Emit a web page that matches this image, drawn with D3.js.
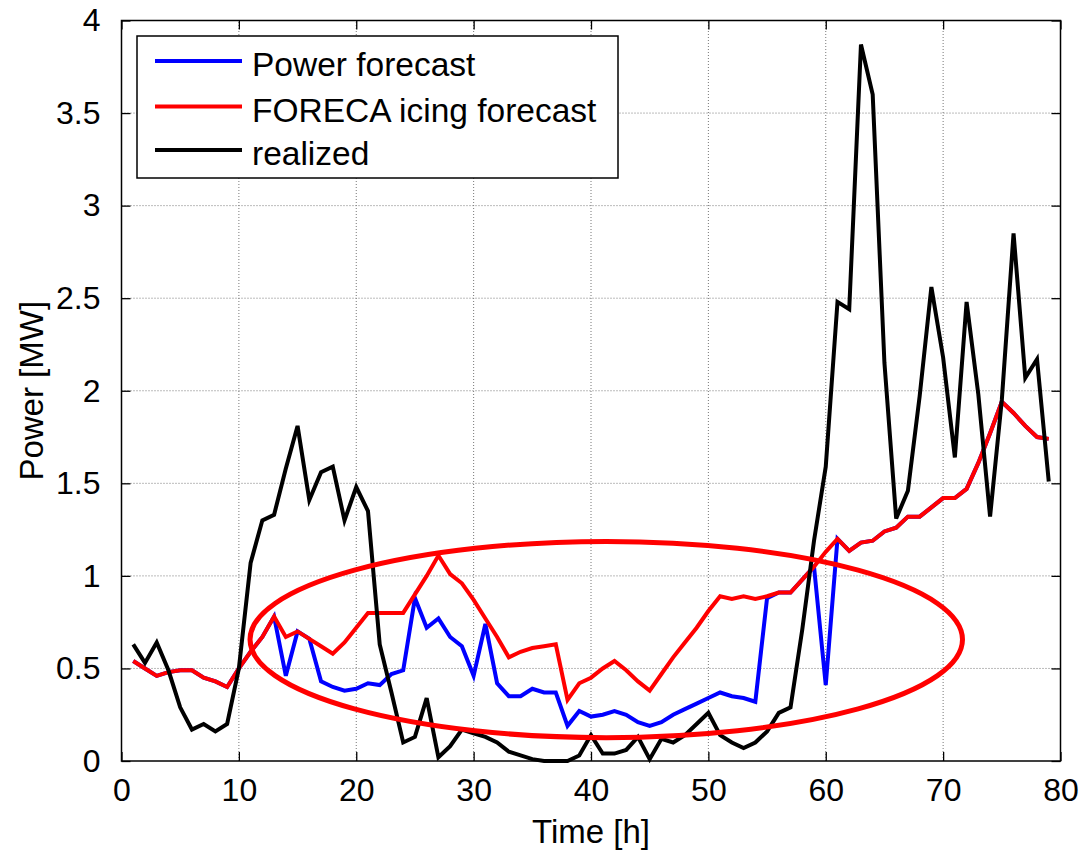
<!DOCTYPE html>
<html>
<head>
<meta charset="utf-8">
<script src="https://cdn.jsdelivr.net/npm/d3@7"></script>
<style>
  body { margin: 0; background: #fff; }
  text { font-family: "Liberation Sans", Arial, sans-serif; fill: #000; }
</style>
</head>
<body>
<div id="viz_container"></div>
<script>
// hours 1..79
const hours = d3.range(1, 80);

const powerForecast = [
  0.54, 0.50, 0.46, 0.48, 0.49, 0.49, 0.45, 0.43, 0.40, 0.50,
  0.59, 0.67, 0.78, 0.46, 0.70, 0.66, 0.43, 0.40, 0.38, 0.39,
  0.42, 0.41, 0.47, 0.49, 0.88, 0.72, 0.77, 0.67, 0.62, 0.46,
  0.74, 0.42, 0.35, 0.35, 0.39, 0.37, 0.37, 0.19, 0.27, 0.24,
  0.25, 0.27, 0.25, 0.21, 0.19, 0.21, 0.25, 0.28, 0.31, 0.34,
  0.37, 0.35, 0.34, 0.32, 0.88, 0.91, 0.91, 0.98, 1.05, 0.41,
  1.20, 1.135, 1.18, 1.19, 1.24, 1.26, 1.32, 1.32, 1.37, 1.42,
  1.42, 1.47, 1.61, 1.77, 1.94, 1.88, 1.81, 1.75, 1.74
];

const icingForecast = [
  0.54, 0.50, 0.46, 0.48, 0.49, 0.49, 0.45, 0.43, 0.40, 0.50,
  0.59, 0.67, 0.78, 0.67, 0.70, 0.66, 0.62, 0.58, 0.64, 0.72,
  0.80, 0.80, 0.80, 0.80, 0.90, 1.00, 1.11, 1.01, 0.96, 0.87,
  0.77, 0.67, 0.56, 0.59, 0.61, 0.62, 0.63, 0.33, 0.42, 0.45,
  0.50, 0.54, 0.49, 0.43, 0.38, 0.47, 0.56, 0.64, 0.72, 0.81,
  0.89, 0.875, 0.89, 0.875, 0.89, 0.91, 0.91, 0.98, 1.05, 1.13,
  1.20, 1.135, 1.18, 1.19, 1.24, 1.26, 1.32, 1.32, 1.37, 1.42,
  1.42, 1.47, 1.61, 1.77, 1.94, 1.88, 1.81, 1.75, 1.74
];

const realized = [
  0.63, 0.53, 0.64, 0.49, 0.29, 0.17, 0.20, 0.16, 0.20, 0.50,
  1.07, 1.30, 1.33, 1.58, 1.81, 1.41, 1.56, 1.59, 1.30, 1.48,
  1.35, 0.63, 0.37, 0.10, 0.13, 0.34, 0.02, 0.08, 0.17, 0.15,
  0.13, 0.10, 0.05, 0.03, 0.01, 0.00, 0.00, 0.00, 0.03, 0.14,
  0.04, 0.04, 0.06, 0.13, 0.01, 0.12, 0.10, 0.14, 0.20, 0.26,
  0.14, 0.10, 0.07, 0.10, 0.16, 0.26, 0.29, 0.71, 1.19, 1.59,
  2.48, 2.44, 3.87, 3.60, 2.15, 1.31, 1.46, 1.97, 2.56, 2.18,
  1.64, 2.48, 1.98, 1.32, 1.95, 2.85, 2.07, 2.17, 1.51
];

const seriesNames = ["Power forecast", "FORECA icing forecast", "realized"];
const seriesColors = ["#0000ff", "#ff0000", "#000000"];

const xTicks = [0, 10, 20, 30, 40, 50, 60, 70, 80];
const yTicks = [0, 0.5, 1, 1.5, 2, 2.5, 3, 3.5, 4];

// highlighted region (ellipse) in data units: centre hour, centre MW, half-width hours, half-height MW
const ellipseCenter = [41.3, 0.656];
const ellipseRadius = [30.35, 0.53];

const width = 1084, height = 852;
const margin = {left: 121.5, right: 23.5, top: 20.5, bottom: 91};

const svg = d3.select("#viz_container")
  .append("svg")
  .attr("width", width)
  .attr("height", height);

const x = d3.scaleLinear().domain([0, 80]).range([margin.left, width - margin.right]);
const y = d3.scaleLinear().domain([0, 4]).range([height - margin.bottom, margin.top]);

const x0 = x.range()[0], x1 = x.range()[1];
const y0 = y.range()[0], y1 = y.range()[1];

// grid
const grid = svg.append("g");
grid.selectAll(".gx")
  .data(xTicks.slice(1, -1))
  .join("line")
  .attr("x1", d => x(d)).attr("x2", d => x(d))
  .attr("y1", y0).attr("y2", y1)
  .attr("stroke", "#777").attr("stroke-width", 1)
  .attr("stroke-dasharray", "1,2");
grid.selectAll(".gy")
  .data(yTicks.slice(1, -1))
  .join("line")
  .attr("x1", x0).attr("x2", x1)
  .attr("y1", d => y(d)).attr("y2", d => y(d))
  .attr("stroke", "#777").attr("stroke-width", 1)
  .attr("stroke-dasharray", "1,2");

// axes with inward ticks (matlab style, all four sides)
const tickLen = 9;
const fmt = d => d3.format("")(d);

svg.append("g")
  .attr("transform", `translate(0,${y0})`)
  .call(d3.axisBottom(x).tickValues(xTicks).tickSize(-tickLen).tickPadding(tickLen + 8).tickFormat(fmt))
  .call(g => g.select(".domain").remove())
  .call(g => g.selectAll("text").style("font-size", "32px").attr("font-family", null));

svg.append("g")
  .attr("transform", `translate(${x0},0)`)
  .call(d3.axisLeft(y).tickValues(yTicks).tickSize(-tickLen).tickPadding(tickLen + 12).tickFormat(fmt))
  .call(g => g.select(".domain").remove())
  .call(g => g.selectAll("text").style("font-size", "32px").attr("font-family", null));

svg.append("g")
  .attr("transform", `translate(0,${y1})`)
  .call(d3.axisTop(x).tickValues(xTicks).tickSize(-tickLen).tickFormat(""))
  .call(g => g.select(".domain").remove());

svg.append("g")
  .attr("transform", `translate(${x1},0)`)
  .call(d3.axisRight(y).tickValues(yTicks).tickSize(-tickLen).tickFormat(""))
  .call(g => g.select(".domain").remove());

svg.selectAll(".tick line").attr("stroke", "#000").attr("stroke-width", 1.3);

// box
svg.append("rect")
  .attr("x", x0).attr("y", y1)
  .attr("width", x1 - x0).attr("height", y0 - y1)
  .attr("fill", "none").attr("stroke", "#000").attr("stroke-width", 1.5);

// lines
const series = [powerForecast, icingForecast, realized];
const line = d3.line()
  .x((d, i) => x(hours[i]))
  .y(d => y(d));

svg.append("g")
  .selectAll("path")
  .data(series)
  .join("path")
  .attr("d", d => line(d))
  .attr("fill", "none")
  .attr("stroke", (d, i) => seriesColors[i])
  .attr("stroke-width", 4)
  .attr("stroke-linejoin", "miter");

// ellipse annotation
svg.append("ellipse")
  .attr("cx", x(ellipseCenter[0]))
  .attr("cy", y(ellipseCenter[1]))
  .attr("rx", x(ellipseCenter[0] + ellipseRadius[0]) - x(ellipseCenter[0]))
  .attr("ry", y(ellipseCenter[1]) - y(ellipseCenter[1] + ellipseRadius[1]))
  .attr("fill", "none")
  .attr("stroke", "#ff0000")
  .attr("stroke-width", 5);

// axis labels
svg.append("text")
  .attr("x", (x0 + x1) / 2)
  .attr("y", 843)
  .attr("text-anchor", "middle")
  .style("font-size", "33px")
  .text("Time [h]");

svg.append("text")
  .attr("transform", `translate(43,${(y0 + y1) / 2}) rotate(-90)`)
  .attr("text-anchor", "middle")
  .style("font-size", "33px")
  .text("Power [MW]");

// legend
const legend = svg.append("g");
legend.append("rect")
  .attr("x", 137).attr("y", 36)
  .attr("width", 481).attr("height", 142)
  .attr("fill", "#fff").attr("stroke", "#000").attr("stroke-width", 1.5);

const rowY = [61, 106.5, 150];
legend.selectAll(".lline")
  .data(seriesNames)
  .join("line")
  .attr("x1", 155).attr("x2", 242)
  .attr("y1", (d, i) => rowY[i]).attr("y2", (d, i) => rowY[i])
  .attr("stroke", (d, i) => seriesColors[i])
  .attr("stroke-width", 4);

legend.selectAll(".ltext")
  .data(seriesNames)
  .join("text")
  .attr("x", 252)
  .attr("y", (d, i) => rowY[i] + 15)
  .style("font-size", "33.5px")
  .text(d => d);
</script>
</body>
</html>
